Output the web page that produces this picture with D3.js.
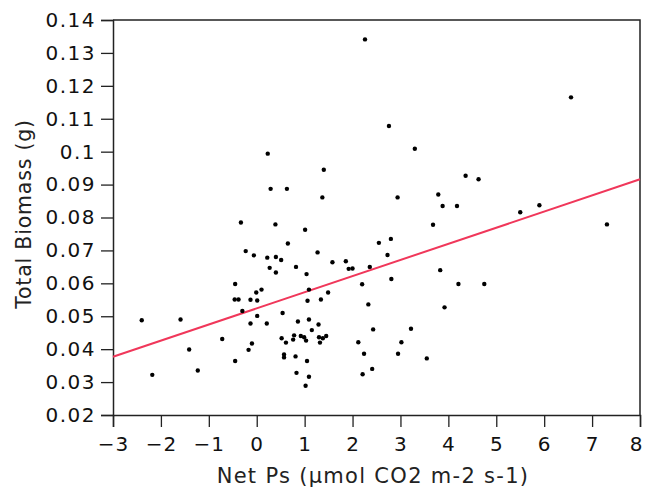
<!DOCTYPE html>
<html>
<head>
<meta charset="utf-8">
<script src="https://cdn.jsdelivr.net/npm/d3@7"></script>
<style>
  body { margin: 0; background: #fff; }
  svg { display: block; font-family: "DejaVu Sans", Verdana, sans-serif; }
</style>
</head>
<body>
<div id="chart"></div>
<script>
// chart size
const width = 645;
const height = 489;
const marginTop = 20;
const marginRight = 5;
const marginBottom = 74;
const marginLeft = 113;

// points
const netPs = [
  2.26, 0.23, 1.40, 0.29, 0.63, 1.37, 2.76, 3.30, 6.56, 2.94,
  4.36, 4.63, 3.79, 3.88, 4.18, 5.50, 5.90, -0.33, 0.39, 1.01,
  0.65, -0.23, -0.06, 0.22, 0.40, 0.51, 1.27, 1.58, 1.86, 1.92,
  2.00, 0.27, 0.40, 0.82, 1.04, -0.45, -0.01, 0.10, 1.09, 1.49,
  2.20, 2.36, -0.46, -0.38, -0.13, 0.01, 1.06, 1.34, -0.30, 0.54,
  0.01, 2.33, -2.40, -1.59, -0.13, 0.21, 0.86, 1.09, 1.29, 1.15,
  -0.72, 0.52, 0.61, 0.76, 0.78, 0.92, 0.99, 1.03, 1.30, 1.32,
  1.38, 1.45, 2.12, -1.41, -0.10, -0.17, 0.57, 0.57, 0.81, 2.24,
  -0.45, 1.05, -1.23, -2.18, 0.83, 1.09, 1.02, 2.21, 7.31, 3.68,
  2.55, 2.80, 2.73, 2.81, 3.83, 4.21, 4.75, 3.92, 2.43, 3.22,
  3.02, 2.95, 3.55, 2.41
];
const biomass = [
  0.1341, 0.0994, 0.0945, 0.0887, 0.0887, 0.0861, 0.1078, 0.1009, 0.1165, 0.0861,
  0.0927, 0.0916, 0.0870, 0.0835, 0.0835, 0.0816, 0.0837, 0.0785, 0.0779, 0.0763,
  0.0721, 0.0698, 0.0685, 0.0678, 0.0680, 0.0671, 0.0694, 0.0664, 0.0667, 0.0644,
  0.0645, 0.0647, 0.0633, 0.0650, 0.0628, 0.0598, 0.0572, 0.0581, 0.0581, 0.0572,
  0.0597, 0.0650, 0.0551, 0.0551, 0.0550, 0.0548, 0.0547, 0.0551, 0.0516, 0.0510,
  0.0501, 0.0536, 0.0488, 0.0490, 0.0478, 0.0478, 0.0484, 0.0490, 0.0475, 0.0458,
  0.0431, 0.0433, 0.0420, 0.0429, 0.0442, 0.0440, 0.0436, 0.0426, 0.0436, 0.0420,
  0.0433, 0.0440, 0.0421, 0.0399, 0.0417, 0.0398, 0.0384, 0.0375, 0.0378, 0.0386,
  0.0364, 0.0364, 0.0335, 0.0322, 0.0328, 0.0316, 0.0289, 0.0324, 0.0779, 0.0778,
  0.0723, 0.0735, 0.0686, 0.0613, 0.0640, 0.0598, 0.0598, 0.0527, 0.0460, 0.0462,
  0.0421, 0.0386, 0.0372, 0.0340
];

// fitted line: biomass = intercept + slope * netPs
const fitIntercept = 0.0524;
const fitSlope = 0.0049;

const xTicks = [-3, -2, -1, 0, 1, 2, 3, 4, 5, 6, 7, 8];
const yTicks = [0.02, 0.03, 0.04, 0.05, 0.06, 0.07, 0.08, 0.09, 0.1, 0.11, 0.12, 0.13, 0.14];

const xLabel = "Net Ps (µmol CO2 m-2 s-1)";
const yLabel = "Total Biomass (g)";

const points = netPs.map((x, i) => ({x: x, y: biomass[i]}));

const xScale = d3.scaleLinear()
  .domain([-3, 8])
  .range([marginLeft, width - marginRight]);

const yScale = d3.scaleLinear()
  .domain([0.02, 0.14])
  .range([height - marginBottom, marginTop]);

const svg = d3.select("#chart").append("svg")
  .attr("width", width)
  .attr("height", height)
  .attr("viewBox", [0, 0, width, height]);

// frame: top and right edges
svg.append("path")
  .attr("fill", "none")
  .attr("stroke", "#222")
  .attr("stroke-width", 1.5)
  .attr("d", `M${xScale(-3)},${yScale(0.14)}H${xScale(8)}V${yScale(0.02)}`);

// x axis
svg.append("g")
  .attr("transform", `translate(0,${height - marginBottom})`)
  .call(d3.axisBottom(xScale)
    .tickValues(xTicks)
    .tickSize(12)
    .tickPadding(10)
    .tickFormat(d => d < 0 ? "\u2212" + Math.abs(d) : d))
  .call(g => g.select(".domain").attr("stroke", "#222").attr("stroke-width", 1.5))
  .call(g => g.selectAll(".tick line").attr("stroke", "#222").attr("stroke-width", 1.3))
  .call(g => g.selectAll(".tick text")
    .attr("font-size", 20)
    .attr("letter-spacing", "1px")
    .attr("font-family", "DejaVu Sans, sans-serif")
    .attr("fill", "#111"))
  // keep the last label inside the window
  .call(g => g.select(".tick:last-of-type text").attr("dx", -4));

// y axis
svg.append("g")
  .attr("transform", `translate(${marginLeft},0)`)
  .call(d3.axisLeft(yScale)
    .tickValues(yTicks)
    .tickSize(12)
    .tickPadding(5)
    .tickFormat(d => String(+d.toFixed(2))))
  .call(g => g.select(".domain").attr("stroke", "#222").attr("stroke-width", 1.5))
  .call(g => g.selectAll(".tick line").attr("stroke", "#222").attr("stroke-width", 1.3))
  .call(g => g.selectAll(".tick text")
    .attr("font-size", 20)
    .attr("letter-spacing", "1.5px")
    .attr("font-family", "DejaVu Sans, sans-serif")
    .attr("fill", "#111"));

// axis titles
svg.append("text")
  .attr("x", 373)
  .attr("y", 483)
  .attr("text-anchor", "middle")
  .attr("font-size", 21)
  .attr("letter-spacing", "1.3px")
  .attr("fill", "#222")
  .text(xLabel);

svg.append("text")
  .attr("transform", "translate(31,214) rotate(-90)")
  .attr("text-anchor", "middle")
  .attr("font-size", 20.5)
  .attr("letter-spacing", "0.8px")
  .attr("fill", "#222")
  .text(yLabel);

// regression line
svg.append("line")
  .attr("x1", xScale(-3))
  .attr("y1", yScale(fitIntercept + fitSlope * -3))
  .attr("x2", xScale(8))
  .attr("y2", yScale(fitIntercept + fitSlope * 8))
  .attr("stroke", "#f0375a")
  .attr("stroke-width", 2);

// the dots
svg.append("g")
  .attr("fill", "#000")
  .selectAll("circle")
  .data(points)
  .join("circle")
    .attr("cx", d => xScale(d.x))
    .attr("cy", d => yScale(d.y))
    .attr("r", 2.2);
</script>
</body>
</html>
